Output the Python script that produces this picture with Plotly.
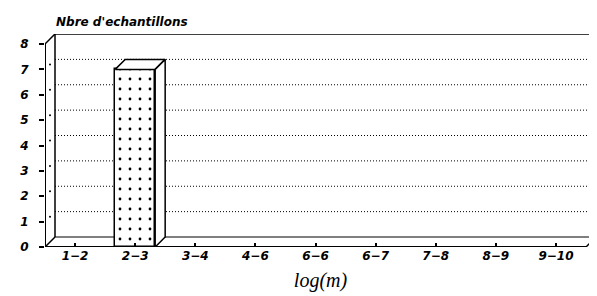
import plotly.graph_objects as go

# ---- data ----
categories = ["1−2", "2−3", "3−4", "4−6", "6−6", "6−7", "7−8", "8−9", "9−10"]
counts = [0, 7, 0, 0, 0, 0, 0, 0, 0]
y_ticks = [0, 1, 2, 3, 4, 5, 6, 7, 8]
y_title = "Nbre d'echantillons"
x_title = "log(m)"

# ---- 3D look parameters (depth offset in data units) ----
W, H = 597, 296
ML, MR, MT, MB = 37, 9, 26, 57
n = len(categories)
ymax = max(y_ticks)
px_cat = (W - ML - MR - 10) / n          # pixels per category on the front plane
DX = 10 / px_cat                          # depth offset along x
plot_h = H - MT - MB
px_unit = (plot_h - 10) / ymax
DY = 10 / px_unit                         # depth offset along y
BW = 40 / px_cat                          # bar width

xs = list(range(n))
x_lo, x_hi = -0.5, n - 0.5

fig = go.Figure()

shapes = []
# back wall gridlines (dotted)
for v in y_ticks[1:-1]:
    shapes.append(dict(type="line", x0=x_lo + DX, x1=x_hi + DX, y0=v + DY, y1=v + DY,
                       line=dict(color="black", width=1, dash="1px,2px"), layer="below"))

def seg(xa, ya, xb, yb, w=1.5, layer="below"):
    shapes.append(dict(type="line", x0=xa, y0=ya, x1=xb, y1=yb,
                       line=dict(color="black", width=w), layer=layer))

# back wall frame
seg(x_lo + DX, DY, x_lo + DX, ymax + DY, 1.5)
seg(x_lo + DX, ymax + DY, x_hi + DX, ymax + DY, 1.5)
seg(x_hi + DX, DY, x_hi + DX, ymax + DY, 2)
seg(x_lo + DX, DY, x_hi + DX, DY, 1.2)
# side diagonals
seg(x_lo, 0, x_lo + DX, DY, 1.5)
seg(x_lo, ymax, x_lo + DX, ymax + DY, 1.5)
seg(x_hi, 0, x_hi + DX, DY, 1.5)
# front axes
seg(x_lo, 0, x_lo, ymax, 2, "above")
seg(x_lo, 0, x_hi, 0, 2, "above")

# side-wall grid dots
fig.add_trace(go.Scatter(
    x=[x_lo + DX / 2] * (len(y_ticks) - 2),
    y=[v + DY / 2 for v in y_ticks[1:-1]],
    mode="markers", marker=dict(size=2, color="black"),
    hoverinfo="skip", showlegend=False))

# front faces of bars
fig.add_trace(go.Bar(
    x=xs, y=counts, width=BW,
    marker=dict(color="white",
                line=dict(color="black", width=[1.5 if c > 0 else 0 for c in counts]),
                pattern=dict(shape=".", bgcolor="white", fgcolor="black",
                             size=10, solidity=0.06, fillmode="replace")),
    hoverinfo="skip", showlegend=False))

# top and side faces
for xi, v in zip(xs, counts):
    if v <= 0:
        continue
    x0, x1 = xi - BW / 2, xi + BW / 2
    fig.add_trace(go.Scatter(
        x=[x0, x1, x1 + DX, x0 + DX, x0], y=[v, v, v + DY, v + DY, v],
        fill="toself", fillcolor="white", mode="lines",
        line=dict(color="black", width=1.5), hoverinfo="skip", showlegend=False))
    fig.add_trace(go.Scatter(
        x=[x1, x1, x1 + DX, x1 + DX, x1], y=[0, v, v + DY, DY, 0],
        fill="toself", fillcolor="white", mode="lines",
        line=dict(color="black", width=1.5), hoverinfo="skip", showlegend=False))

tick_font = dict(family="DejaVu Sans", size=12, color="black", weight="bold", style="italic")

fig.update_layout(
    width=W, height=H,
    margin=dict(l=ML, r=MR, t=MT, b=MB),
    paper_bgcolor="white", plot_bgcolor="white",
    shapes=shapes,
    bargap=0,
    title=dict(text=y_title, xref="container", yref="container",
               x=48 / W, xanchor="left", y=1 - 14 / H, yanchor="middle",
               font=dict(family="DejaVu Sans", size=12, color="black",
                         weight="bold", style="italic")),
    xaxis=dict(range=[x_lo, x_hi + DX], tickvals=xs, ticktext=categories,
               showgrid=False, zeroline=False, showline=False,
               ticks="inside", ticklen=4, tickwidth=1.5, tickcolor="black",
               tickfont=tick_font,
               title=dict(text=x_title, standoff=10,
                          font=dict(family="Liberation Serif", size=20,
                                    color="black", style="italic"))),
    yaxis=dict(range=[0, ymax + DY], tickvals=y_ticks, ticktext=[str(t) for t in y_ticks],
               showgrid=False, zeroline=False, showline=False,
               ticks="outside", ticklen=5, tickwidth=1.5, tickcolor="black",
               ticklabelstandoff=8,
               tickfont=tick_font),
)

fig.write_html("out.html")
